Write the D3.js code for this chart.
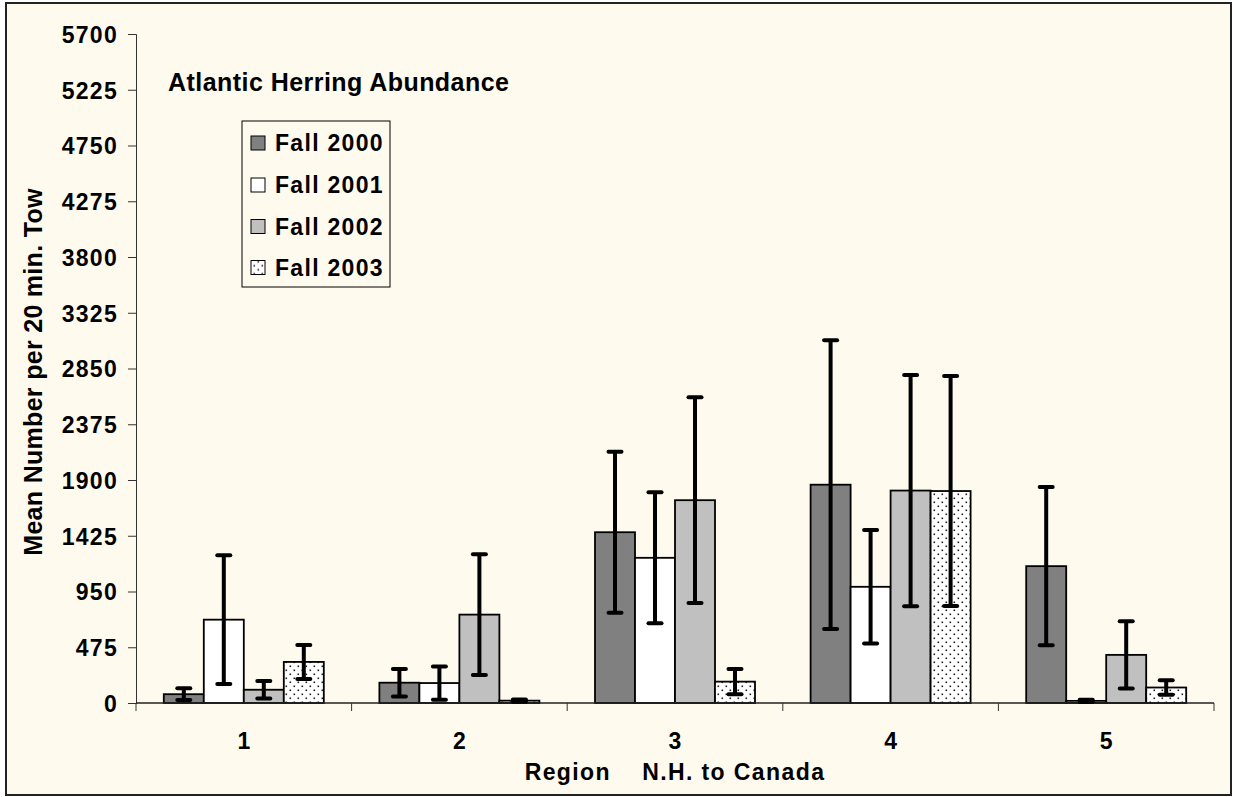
<!DOCTYPE html>
<html>
<head>
<meta charset="utf-8">
<script src="https://cdn.jsdelivr.net/npm/d3@7"></script>
<style>
  html, body { margin: 0; padding: 0; background: #ffffff; }
  svg text { font-family: "Liberation Sans", Arial, sans-serif; font-weight: bold; fill: #000; }
</style>
</head>
<body>
<svg id="chart" width="1233" height="797"></svg>
<script>
// Regions along the coast, N.H. to Canada
const regions = ["1", "2", "3", "4", "5"];
const seriesNames = ["Fall 2000", "Fall 2001", "Fall 2002", "Fall 2003"];

// Mean number per 20 min. tow and error (±) for each survey
const fall2000 = [75, 173, 1455, 1860, 1166];
const fall2000Err = [50, 117, 685, 1230, 674];
const fall2001 = [710, 170, 1237, 990, 18];
const fall2001Err = [548, 142, 558, 483, 10];
const fall2002 = [113, 753, 1728, 1810, 410];
const fall2002Err = [75, 514, 877, 985, 287];
const fall2003 = [350, 20, 182, 1806, 132];
const fall2003Err = [145, 10, 108, 980, 61];

const yTicks = [0, 475, 950, 1425, 1900, 2375, 2850, 3325, 3800, 4275, 4750, 5225, 5700];

const seriesValues = [fall2000, fall2001, fall2002, fall2003];
const seriesErrors = [fall2000Err, fall2001Err, fall2002Err, fall2003Err];
const seriesFills = ["#808080", "#ffffff", "#c0c0c0", "url(#dots)"];

const bg = "#fffaee";
const svg = d3.select("#chart");

// dotted fill for the last series
const defs = svg.append("defs");
const pat = defs.append("pattern")
  .attr("id", "dots").attr("patternUnits", "userSpaceOnUse")
  .attr("width", 8).attr("height", 8);
pat.append("rect").attr("width", 8).attr("height", 8).attr("fill", "#ffffff");
pat.append("rect").attr("x", 1.5).attr("y", 1.5).attr("width", 1.6).attr("height", 1.6).attr("fill", "#222");
pat.append("rect").attr("x", 5.5).attr("y", 5.5).attr("width", 1.6).attr("height", 1.6).attr("fill", "#222");

// chart area
svg.append("rect")
  .attr("x", 6).attr("y", 3).attr("width", 1225).attr("height", 792)
  .attr("fill", bg).attr("stroke", "#222").attr("stroke-width", 2);

const plot = { left: 136, right: 1214, top: 34, bottom: 703 };

const x = d3.scaleBand().domain(regions).range([plot.left, plot.right]).padding(0);
const xs = d3.scaleBand().domain(seriesNames).range([0, x.bandwidth()])
  .paddingInner(0).paddingOuter(0.695);
const y = d3.scaleLinear().domain([0, 5700]).range([plot.bottom, plot.top]);

// y axis
const yAxis = svg.append("g")
  .attr("transform", `translate(${plot.left},0)`)
  .call(d3.axisLeft(y).tickValues(yTicks).tickFormat(d3.format("d")).tickSize(8).tickPadding(10));
yAxis.select(".domain").attr("stroke", "#333").attr("stroke-width", 1);
yAxis.selectAll(".tick line").attr("stroke", "#333");
yAxis.selectAll(".tick text")
  .attr("dy", "0.36em")
  .style("font-size", "23px").style("letter-spacing", "1.3px")
  .attr("fill", "#000");

// bars
const data = [];
regions.forEach((r, i) => {
  seriesNames.forEach((s, j) => {
    data.push({ region: r, series: s, value: seriesValues[j][i], err: seriesErrors[j][i], fill: seriesFills[j] });
  });
});

const groups = svg.append("g");
groups.selectAll("rect.bar").data(data).join("rect")
  .attr("class", "bar")
  .attr("x", d => x(d.region) + xs(d.series))
  .attr("y", d => y(d.value))
  .attr("width", xs.bandwidth())
  .attr("height", d => y(0) - y(d.value))
  .attr("fill", d => d.fill)
  .attr("stroke", "#000")
  .attr("stroke-width", 1.8);

// x axis line and boundary ticks
svg.append("line")
  .attr("x1", plot.left).attr("x2", plot.right)
  .attr("y1", plot.bottom).attr("y2", plot.bottom)
  .attr("stroke", "#222").attr("stroke-width", 1.5);
const bounds = regions.map(r => x(r)).concat([plot.right]);
svg.append("g").selectAll("line").data(bounds).join("line")
  .attr("x1", d => d).attr("x2", d => d)
  .attr("y1", plot.bottom).attr("y2", plot.bottom + 8)
  .attr("stroke", "#333").attr("stroke-width", 1);

const xAxis = svg.append("g")
  .attr("transform", `translate(0,${plot.bottom})`)
  .call(d3.axisBottom(x).tickSize(0));
xAxis.select(".domain").remove();
xAxis.selectAll(".tick text")
  .attr("y", 46).attr("dy", 0)
  .style("font-size", "23px")
  .attr("fill", "#000");

// error bars
const eb = svg.append("g").attr("stroke", "#000").attr("stroke-linecap", "round");
const cx = d => x(d.region) + xs(d.series) + xs.bandwidth() / 2;
eb.selectAll("line.stem").data(data).join("line")
  .attr("class", "stem")
  .attr("x1", cx).attr("x2", cx)
  .attr("y1", d => y(d.value + d.err))
  .attr("y2", d => y(Math.max(0, d.value - d.err)))
  .attr("stroke-width", 4).attr("stroke-linecap", "butt");
eb.selectAll("line.capTop").data(data).join("line")
  .attr("class", "capTop")
  .attr("x1", d => cx(d) - 6.5).attr("x2", d => cx(d) + 6.5)
  .attr("y1", d => y(d.value + d.err)).attr("y2", d => y(d.value + d.err))
  .attr("stroke-width", 4);
eb.selectAll("line.capBot").data(data).join("line")
  .attr("class", "capBot")
  .attr("x1", d => cx(d) - 6.5).attr("x2", d => cx(d) + 6.5)
  .attr("y1", d => y(Math.max(0, d.value - d.err))).attr("y2", d => y(Math.max(0, d.value - d.err)))
  .attr("stroke-width", 4);

// titles
svg.append("text")
  .attr("x", 168).attr("y", 91)
  .style("font-size", "25px").style("letter-spacing", "0.45px")
  .text("Atlantic Herring Abundance");

svg.append("text")
  .attr("transform", "translate(41.5,372) rotate(-90)")
  .attr("text-anchor", "middle")
  .style("font-size", "25px").style("letter-spacing", "0.3px")
  .text("Mean Number per 20 min. Tow");

svg.append("text")
  .attr("x", 675).attr("y", 780)
  .attr("text-anchor", "middle")
  .attr("xml:space", "preserve")
  .style("white-space", "pre")
  .style("font-size", "23px").style("letter-spacing", "1.4px")
  .text("Region    N.H. to Canada");

// legend
const legend = svg.append("g");
legend.append("rect")
  .attr("x", 242).attr("y", 121).attr("width", 148).attr("height", 166)
  .attr("fill", bg).attr("stroke", "#000").attr("stroke-width", 1);
const rowY = [143, 185, 226.5, 267.5];
const items = legend.selectAll("g.item").data(seriesNames).join("g")
  .attr("class", "item")
  .attr("transform", (d, i) => `translate(0,${rowY[i]})`);
items.append("rect")
  .attr("x", 251).attr("y", -7).attr("width", 14).attr("height", 14)
  .attr("fill", (d, i) => seriesFills[i])
  .attr("stroke", "#000").attr("stroke-width", 1);
items.append("text")
  .attr("x", 275).attr("y", 0).attr("dy", "0.36em")
  .style("font-size", "23px").style("letter-spacing", "1.3px")
  .text(d => d);
</script>
</body>
</html>
